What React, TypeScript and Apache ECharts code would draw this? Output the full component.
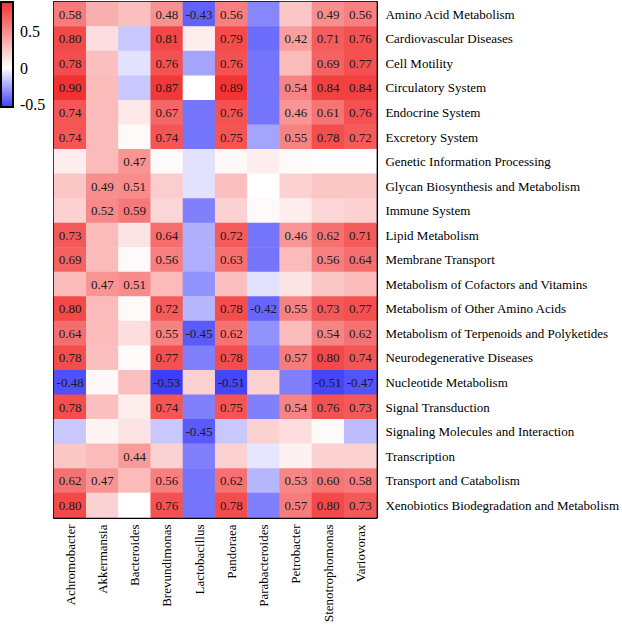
import React, { useEffect, useRef } from "react";
import * as echarts from "echarts";

const genera = [
  "Achromobacter", "Akkermansia", "Bacteroides", "Brevundimonas", "Lactobacillus",
  "Pandoraea", "Parabacteroides", "Petrobacter", "Stenotrophomonas", "Variovorax",
];

const pathways = [
  "Amino Acid Metabolism",
  "Cardiovascular Diseases",
  "Cell Motility",
  "Circulatory System",
  "Endocrine System",
  "Excretory System",
  "Genetic Information Processing",
  "Glycan Biosynthesis and Metabolism",
  "Immune System",
  "Lipid Metabolism",
  "Membrane Transport",
  "Metabolism of Cofactors and Vitamins",
  "Metabolism of Other Amino Acids",
  "Metabolism of Terpenoids and Polyketides",
  "Neurodegenerative Diseases",
  "Nucleotide Metabolism",
  "Signal Transduction",
  "Signaling Molecules and Interaction",
  "Transcription",
  "Transport and Catabolism",
  "Xenobiotics Biodegradation and Metabolism",
];

const rAminoAcid = [0.58, 0.35, 0.28, 0.48, -0.43, 0.56, -0.33, 0.25, 0.49, 0.56];
const rCardio = [0.80, 0.15, -0.15, 0.81, 0.08, 0.79, -0.40, 0.42, 0.71, 0.76];
const rCellMotility = [0.78, 0.28, -0.08, 0.76, -0.25, 0.76, -0.38, 0.30, 0.69, 0.77];
const rCirculatory = [0.90, 0.30, -0.15, 0.87, 0.00, 0.89, -0.38, 0.54, 0.84, 0.84];
const rEndocrine = [0.74, 0.30, 0.10, 0.67, -0.38, 0.76, -0.38, 0.46, 0.61, 0.76];
const rExcretory = [0.74, 0.30, 0.02, 0.74, -0.38, 0.75, -0.25, 0.55, 0.78, 0.72];
const rGenetic = [0.08, 0.30, 0.47, 0.02, -0.08, 0.03, 0.08, 0.02, 0.01, 0.01];
const rGlycan = [0.25, 0.49, 0.51, 0.22, -0.08, 0.28, 0.00, 0.20, 0.25, 0.25];
const rImmune = [0.20, 0.52, 0.59, 0.18, -0.35, 0.20, 0.02, 0.08, 0.18, 0.20];
const rLipid = [0.73, 0.30, 0.12, 0.64, -0.22, 0.72, -0.38, 0.46, 0.62, 0.71];
const rMembrane = [0.69, 0.30, 0.02, 0.56, -0.22, 0.63, -0.38, 0.30, 0.56, 0.64];
const rCofactors = [0.30, 0.47, 0.51, 0.30, -0.30, 0.28, -0.08, 0.12, 0.25, 0.30];
const rOtherAA = [0.80, 0.30, 0.02, 0.72, -0.20, 0.78, -0.42, 0.55, 0.73, 0.77];
const rTerpenoids = [0.64, 0.30, 0.15, 0.55, -0.45, 0.62, -0.30, 0.30, 0.54, 0.62];
const rNeuro = [0.78, 0.28, 0.02, 0.77, -0.35, 0.78, -0.35, 0.57, 0.80, 0.74];
const rNucleotide = [-0.48, 0.03, 0.28, -0.53, 0.20, -0.51, 0.20, -0.35, -0.51, -0.47];
const rSignal = [0.78, 0.28, 0.08, 0.74, -0.35, 0.75, -0.35, 0.54, 0.76, 0.73];
const rSignalingMol = [-0.15, 0.05, 0.12, -0.15, -0.45, -0.15, 0.20, 0.15, 0.02, -0.18];
const rTranscription = [0.25, 0.30, 0.44, 0.20, -0.35, 0.20, -0.07, 0.06, 0.20, 0.20];
const rTransport = [0.62, 0.47, 0.30, 0.56, -0.38, 0.62, -0.20, 0.53, 0.60, 0.58];
const rXenobiotics = [0.80, 0.20, 0.00, 0.76, -0.38, 0.78, -0.35, 0.57, 0.80, 0.73];

const matrix = [
  rAminoAcid, rCardio, rCellMotility, rCirculatory, rEndocrine, rExcretory, rGenetic,
  rGlycan, rImmune, rLipid, rMembrane, rCofactors, rOtherAA, rTerpenoids, rNeuro,
  rNucleotide, rSignal, rSignalingMol, rTranscription, rTransport, rXenobiotics,
];

const colorbarLabels = [-0.5, 0, 0.5];
const colorbarTicks = [0, 0.5];
const scaleMin = -0.53;
const scaleMax = 0.9;
const labelThreshold = 0.42;

const FONT = "'Liberation Serif', 'Times New Roman', serif";

const RED = [242, 50, 50];
const BLUE = [62, 62, 250];

function buildStops(n: number): string[] {
  const out: string[] = [];
  for (let i = 0; i < n; i++) {
    const v = scaleMin + ((scaleMax - scaleMin) * i) / (n - 1);
    let end: number[];
    let t: number;
    if (v < 0) {
      end = BLUE;
      t = v / scaleMin;
    } else {
      end = RED;
      t = v / scaleMax;
    }
    const c = [0, 1, 2].map((k) => Math.round(255 + (end[k] - 255) * t));
    out.push(`rgb(${c[0]},${c[1]},${c[2]})`);
  }
  return out;
}

export default function App() {
  const ref = useRef<HTMLDivElement>(null);

  useEffect(() => {
    if (!ref.current) return;
    const chart = echarts.init(ref.current, undefined, { renderer: "svg" });

    const data: any[] = [];
    matrix.forEach((row, ri) => {
      row.forEach((v, ci) => {
        data.push([ci, ri, v]);
      });
    });

    const option: any = {
      animation: false,
      backgroundColor: "#fff",
      grid: [
        { left: 54, top: 2, width: 329, height: 517, containLabel: false },
        {
          left: 1, top: 2, width: 12, height: 105, show: true,
          borderColor: "#000", borderWidth: 2, backgroundColor: "transparent", z: 10,
        },
      ],
      xAxis: [
        {
          type: "category", gridIndex: 0, data: genera, position: "bottom",
          axisLine: { show: true, lineStyle: { color: "#000", width: 2 } },
          axisTick: { show: false },
          splitLine: { show: false },
          axisLabel: {
            rotate: 90, fontSize: 13, color: "#000", fontFamily: FONT, margin: 7,
            interval: 0,
          },
        },
        {
          type: "category", gridIndex: 0, data: genera, position: "top",
          axisLine: { show: true, lineStyle: { color: "#000", width: 2 } },
          axisTick: { show: false }, axisLabel: { show: false }, splitLine: { show: false },
        },
        { type: "value", gridIndex: 1, show: false, min: 0, max: 1 },
      ],
      yAxis: [
        {
          type: "category", gridIndex: 0, data: pathways, inverse: true, position: "right",
          axisLine: { show: true, lineStyle: { color: "#000", width: 2 } },
          axisTick: { show: false },
          splitLine: { show: false },
          axisLabel: { fontSize: 13, color: "#000", fontFamily: FONT, margin: 9, interval: 0 },
        },
        {
          type: "category", gridIndex: 0, data: pathways, inverse: true, position: "left",
          axisLine: { show: true, lineStyle: { color: "#000", width: 2 } },
          axisTick: { show: false }, axisLabel: { show: false }, splitLine: { show: false },
        },
        {
          type: "value", gridIndex: 1, min: scaleMin, max: scaleMax, position: "right",
          axisLine: { show: false },
          splitLine: { show: false },
          axisTick: {
            show: true, customValues: colorbarTicks, length: 3, inside: false,
            lineStyle: { color: "#000", width: 2 },
          },
          axisLabel: {
            show: true, customValues: colorbarLabels, fontSize: 16, color: "#000",
            fontFamily: FONT, margin: 7,
            formatter: (v: number) => String(v),
          },
        },
      ],
      visualMap: {
        type: "continuous",
        show: true,
        min: scaleMin,
        max: scaleMax,
        dimension: 2,
        seriesIndex: 0,
        calculable: false,
        left: 1,
        top: 2,
        itemWidth: 12,
        itemHeight: 105,
        padding: 0,
        text: null,
        showLabel: false,
        inRange: { color: buildStops(144) },
      },
      series: [
        {
          type: "heatmap",
          xAxisIndex: 0,
          yAxisIndex: 0,
          data,
          itemStyle: { borderWidth: 0 },
          emphasis: { disabled: true },
          label: {
            show: true,
            color: "#1a1a1a",
            fontSize: 13,
            fontFamily: FONT,
            formatter: (p: any) => {
              const v = p.value[2];
              return Math.abs(v) >= labelThreshold ? v.toFixed(2) : "";
            },
          },
        },
      ],
    };

    chart.setOption(option);
    return () => chart.dispose();
  }, []);

  return (
    <div
      ref={ref}
      style={{ position: "absolute", left: 0, top: 0, width: 622, height: 625 }}
    />
  );
}
